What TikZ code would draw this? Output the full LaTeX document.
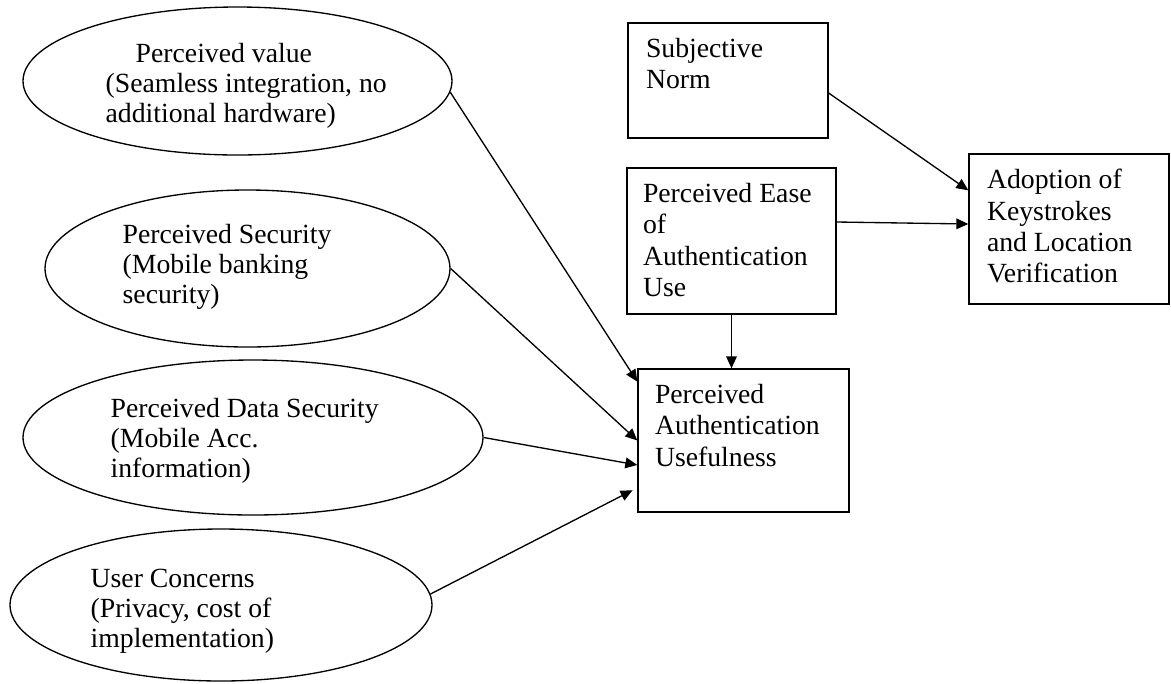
\documentclass[tikz,border=0pt]{standalone}
\usepackage{fontspec}
\setmainfont{Liberation Serif}
\usetikzlibrary{shapes.geometric,arrows.meta}

\begin{document}
\begin{tikzpicture}[x=0.75pt, y=-0.75pt, line width=1pt,
  factor/.style={ellipse, draw, inner sep=0pt},
  stage/.style={rectangle, draw, inner sep=0pt},
  ftext/.style={anchor=north west, inner sep=0pt, align=left, font=\fontsize{20.8}{22.5}\selectfont},
  stext/.style={anchor=north west, inner sep=0pt, align=left, font=\fontsize{20.8}{23.6}\selectfont},
  link/.style={-{Triangle[length=9pt, width=8pt]}}]
  \useasboundingbox (0,0) rectangle (1171,683);
  % left column: the four factors
  \node (pv) [factor, minimum width=321.75pt, minimum height=111pt] at (237.5,81) {};
  \node (ps) [factor, minimum width=303.75pt, minimum height=117.75pt] at (247.5,268.5) {};
  \node (pds) [factor, minimum width=345pt, minimum height=116.25pt] at (253,437.5) {};
  \node (uc) [factor, minimum width=316.5pt, minimum height=114pt] at (221,605) {};
  \node (pv txt) [ftext] at (105,43) {\hspace*{22.5pt}Perceived value\\(Seamless integration, no\\additional hardware)};
  \node (ps txt) [ftext] at (122,224) {Perceived Security\\(Mobile banking\\security)};
  \node (pds txt) [ftext] at (110,398) {Perceived Data Security\\(Mobile Acc.\\information)};
  \node (uc txt) [ftext] at (90,568) {User Concerns\\(Privacy, cost of\\implementation)};
  % right part: the boxes
  \node (sn) [stage, minimum width=150pt, minimum height=86.25pt] at (728,80.5) {};
  \node (pe) [stage, minimum width=156.75pt, minimum height=109.5pt] at (731.5,241) {};
  \node (ad) [stage, minimum width=150pt, minimum height=112.5pt] at (1069,229) {};
  \node (pau) [stage, minimum width=158.25pt, minimum height=107.25pt] at (743.5,440.5) {};
  \node (sn txt) [stext] at ([shift={(18,15)}]sn.north west) {Subjective\\Norm};
  \node (pe txt) [stext] at ([shift={(16,15)}]pe.north west) {Perceived Ease\\of\\Authentication\\Use};
  \node (ad txt) [stext] at ([shift={(18,15)}]ad.north west) {Adoption of\\Keystrokes\\and Location\\Verification};
  \node (pau txt) [stext] at ([shift={(17,15)}]pau.north west) {Perceived\\Authentication\\Usefulness};
  % paths
  \draw [link] (pv.-3) -- (pau.151);
  \draw [link] (ps.east) -- (pau.west);
  \draw [link] (pds.east) -- (pau.193);
  \draw [link, shorten >=4pt] (uc.3) -- (pau.204);
  \draw [link] (pe.south) -- (pe.south |- pau.north);
  \draw [link] ([yshift=-9.4pt]sn.east) -- ([yshift=29pt]ad.west);
  \draw [link] ([yshift=14.25pt]pe.east) -- ([yshift=3.75pt]ad.west);
\end{tikzpicture}
\end{document}
